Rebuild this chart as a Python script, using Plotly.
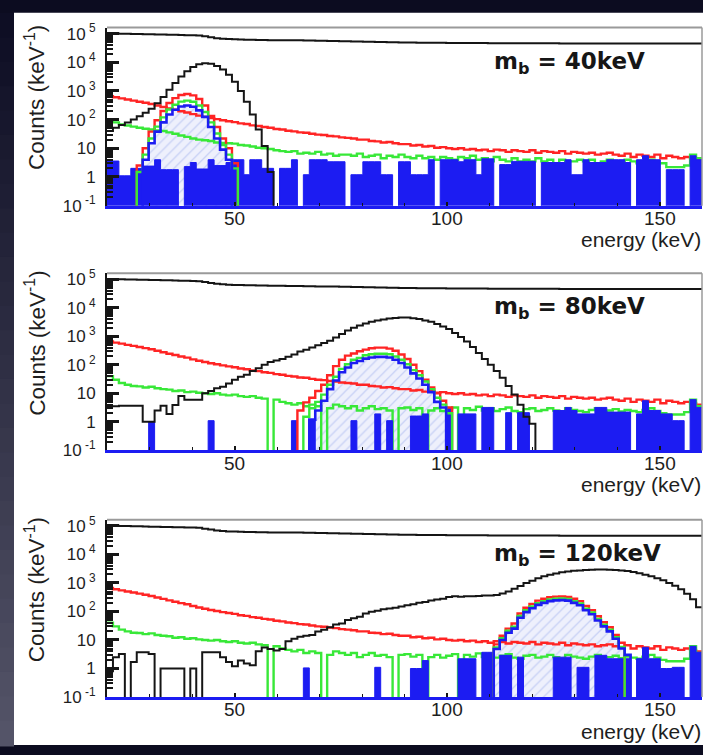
import numpy as np
import plotly.graph_objects as go

# ------------------------------------------------------------------
# Histogram binning: 100 bins of 1.4 keV between 20 and 160 keV
# ------------------------------------------------------------------
E_LO, E_HI, NBINS = 20.0, 160.0, 100
edges = np.linspace(E_LO, E_HI, NBINS + 1)

masses = ["40", "80", "120"]
energy_ticks = [50, 100, 150]

# ---- spectra in counts / keV, one value per bin ----
black_total = [
    1.00e5, 1.00e5, 9.9e4, 9.8e4, 9.7e4, 9.6e4, 9.5e4, 9.4e4, 9.3e4, 9.2e4,
    9.1e4, 9.0e4, 8.9e4, 8.8e4, 8.7e4, 8.5e4, 8.0e4, 7.4e4, 6.9e4, 6.6e4,
    6.4e4, 6.3e4, 6.2e4, 6.1e4, 6.1e4, 6.0e4, 6.0e4, 5.9e4, 5.9e4, 5.9e4,
    5.8e4, 5.8e4, 5.8e4, 5.7e4, 5.7e4, 5.6e4, 5.6e4, 5.5e4, 5.5e4, 5.4e4,
    5.4e4, 5.3e4, 5.3e4, 5.2e4, 5.2e4, 5.1e4, 5.1e4, 5.0e4, 5.0e4, 4.9e4,
    4.9e4, 4.9e4, 4.8e4, 4.8e4, 4.8e4, 4.8e4, 4.8e4, 4.7e4, 4.7e4, 4.7e4,
    4.7e4, 4.7e4, 4.7e4, 4.7e4, 4.6e4, 4.6e4, 4.6e4, 4.6e4, 4.6e4, 4.6e4,
    4.6e4, 4.6e4, 4.6e4, 4.6e4, 4.6e4, 4.6e4, 4.5e4, 4.5e4, 4.5e4, 4.5e4,
    4.5e4, 4.5e4, 4.5e4, 4.5e4, 4.5e4, 4.5e4, 4.5e4, 4.5e4, 4.5e4, 4.5e4,
    4.5e4, 4.5e4, 4.5e4, 4.5e4, 4.5e4, 4.5e4, 4.5e4, 4.5e4, 4.5e4, 4.5e4,
]

red_bkg = [
    660, 600, 550, 500, 460, 420, 385, 350, 310, 275,
    245, 220, 195, 178, 155, 138, 125, 113, 104, 95,
    88, 82, 74, 70, 63, 60, 55, 52, 47, 45,
    41, 39, 36, 35, 32, 30, 29, 27, 26, 24,
    23, 22, 20, 20, 18, 17.5, 16, 16.5, 15, 14,
    14, 12.5, 13, 11.5, 12, 10.5, 11, 10, 9.5, 10,
    9, 9.5, 8.5, 9, 8, 9, 8.5, 7.5, 8.5, 8,
    7.5, 8.5, 7, 8, 7.5, 7, 8, 6.5, 7.5, 7,
    6.5, 7, 6, 6.5, 7, 6, 5.5, 6.5, 5, 6,
    5.5, 5, 6, 4.5, 5.5, 5, 4.5, 5, 4.5, 4,
]

green_bkg_40 = [
    100, 80, 68, 62, 57, 52, 48, 45, 42, 40,
    36, 32, 28, 25, 22, 20, 19, 18, 16, 15.5,
    15, 14.5, 13, 12.5, 11.5, 10.5, 10, 9.5, 8.5, 8,
    7.5, 8, 6.5, 7, 6.5, 7.5, 6, 6.5, 5.5, 6,
    6, 5.5, 6.5, 5, 5.5, 6, 4.5, 5.5, 5, 6,
    5, 4.5, 5.5, 4.5, 5, 4, 5, 4.5, 4, 5,
    4.5, 5.5, 4, 4.5, 3.5, 5, 4, 3.5, 4.5, 3.5,
    4, 3.5, 4.5, 3.5, 4, 3, 4, 3.5, 3.5, 4,
    3.5, 4, 3, 3.5, 4, 3.5, 3, 4, 3.5, 3,
    3.5, 4, 3, 3, 2.2, 2.2, 2.2, 2.5, 6, 4.5,
]

green_bkg_hi = [
    40, 30, 23, 20, 18, 17.5, 16, 17, 15, 14,
    13.5, 12, 12.5, 11, 11.5, 10.5, 10, 9.5, 10, 9,
    8.5, 9, 8, 7.5, 8, 7, 6.5, 0, 6, 5,
    4.5, 4, 4.5, 3.5, 4, 3.5, 0, 3, 4, 3.5,
    3, 3.5, 2.5, 3, 3.5, 2.8, 3, 2.5, 0, 3,
    3.2, 2.6, 3, 0, 2.5, 3, 2.4, 2.8, 3.2, 0,
    3, 2.6, 3.4, 2.5, 3, 2.4, 2.8, 3.2, 2.4, 2.2,
    2.8, 3, 2.4, 2.6, 3, 2.5, 2.2, 3, 2.6, 2.4,
    2.2, 2.6, 3, 2.4, 2.5, 2.8, 2.3, 2.6, 2.4, 2.2,
    2.6, 3, 2.4, 2.0, 1.8, 1.8, 1.8, 2.2, 6, 3.5,
]

black_40 = [
    40, 52, 65, 80, 100, 130, 175, 240, 370, 620,
    1100, 1900, 3200, 4900, 6800, 8500, 9200, 8800, 7400, 5600,
    3700, 2100, 1000, 420, 150, 45, 12, 1.5, 0, 0,
] + [0] * 70

black_80 = [
    3.5, 3.5, 3.7, 3.7, 3.7, 3.7, 1.0, 1.0, 2.5, 3.7,
    1.9, 3.9, 8, 6, 6, 6, 10, 12, 15, 17,
    22, 30, 38, 45, 60, 75, 100, 125, 140, 160,
    190, 230, 290, 340, 400, 480, 580, 700, 900, 1200,
    1600, 2000, 2400, 2800, 3200, 3600, 3900, 4200, 4400, 4500,
    4500, 4300, 4000, 3600, 3200, 2700, 2200, 1800, 1300, 950,
    650, 420, 260, 160, 100, 60, 35, 18, 9, 4,
    1.5, 0.85, 0, 0, 0, 0, 0, 0, 0, 0,
] + [0] * 20

black_120 = [
    0.8, 2.5, 3.2, 0, 1.7, 3.7, 3.7, 3.2, 0, 1.0,
    1.0, 1.0, 1.0, 0, 1.0, 0, 3.7, 3.7, 3.7, 2.5,
    1.7, 1.2, 1.9, 1.5, 1.3, 4, 5.5, 4.8, 4.3, 4.8,
    9, 11, 13, 14, 15, 20, 23, 28, 35, 38,
    50, 58, 65, 85, 98, 105, 120, 128, 135, 150,
    166, 180, 200, 215, 240, 260, 280, 320, 340, 330,
    340, 340, 350, 360, 360, 380, 430, 500, 620, 780,
    1000, 1200, 1450, 1700, 1950, 2150, 2350, 2500, 2650, 2750,
    2850, 2900, 2950, 2950, 2900, 2850, 2750, 2600, 2400, 2200,
    1950, 1700, 1450, 1250, 1000, 800, 600, 420, 270, 140,
]

blue_40 = [
    3.6, 3.6, 1.1, 1.1, 2, 2, 2.4, 2.4, 4, 1.8,
    1.8, 1.8, 0, 2.3, 3.2, 1.9, 1.9, 4, 2.5, 2.5,
    3.2, 4, 4, 1.2, 4, 4, 2, 2, 0, 2,
    2, 4, 0, 1.2, 4, 4, 4, 3.4, 3.4, 3.4,
    0, 1.2, 1.2, 3.4, 3.4, 3.4, 1.2, 1.2, 0, 3.4,
    3.4, 1.2, 1.2, 1.2, 4, 0, 4, 4, 4, 3.4,
    4, 4, 1.2, 4.3, 4.3, 0, 2.7, 2.7, 3.5, 3.5,
    3.5, 3.5, 0, 3.2, 3.2, 3.2, 3.2, 4, 1.2, 1.2,
    4, 3.2, 3.2, 3.2, 4, 4, 4, 3.2, 0, 4,
    5.5, 4, 4, 0, 1.8, 1.8, 1.8, 0, 5.5, 4,
]

blue_80 = [
    0, 0, 0, 0, 0, 0, 0, 1.0, 0, 0,
    0, 0, 0, 0, 0, 0, 0, 1.1, 0, 0,
    0, 0, 0, 0, 0, 0, 0, 0, 0, 0,
    0, 1.1, 0, 0, 1.1, 0, 0, 0, 0, 0,
    0, 1.1, 0, 0, 0, 1.9, 0, 1.1, 0, 0,
    0, 1.6, 1.6, 1.9, 0, 0, 0, 3.2, 0, 1.9,
    1.9, 1.9, 0, 3.2, 3.2, 0, 0, 2.1, 0, 2.1,
    2.1, 0, 0, 0, 0, 2.5, 2.5, 3.2, 2.5, 1.9,
    1.9, 1.9, 3.2, 3.2, 2.2, 2.2, 2.2, 2.2, 0, 1.9,
    5.5, 2.5, 2.5, 1.9, 1.9, 1.1, 1.1, 0, 6, 3.2,
]

blue_120 = [
    0, 0, 0, 0, 0, 0, 0, 0, 0, 0,
    0, 0, 0, 0, 0, 0, 0, 0, 0, 0,
    0, 0, 0, 0, 0, 0, 0, 0, 0, 0,
    0, 0, 0, 1.05, 0, 0, 0, 0, 0, 0,
    0, 0, 0, 0, 0, 1.1, 0, 0, 0, 0,
    0, 1.0, 1.0, 1.9, 0, 0, 0, 0, 0, 2.2,
    2.2, 2.2, 0, 3.7, 3.7, 0, 2.9, 2.9, 0, 2.5,
    0, 0, 0, 0, 0, 2.5, 2.5, 2.5, 0, 1.1,
    1.1, 0, 2.9, 2.9, 2.2, 2.2, 2.2, 2.2, 0, 2.2,
    5.5, 2.2, 2.2, 1.0, 1.0, 1.1, 1.1, 0, 6, 3.7,
]

# ---- signal peaks: index of the first bin, then one value per bin ----
peak_first_bin_40 = 5
red_peak_40 = [2.5, 10, 38, 95, 200, 380, 560, 720, 780, 700, 520, 310, 135, 55, 22, 10, 3]
green_peak_40 = [1.5, 6, 22, 57, 120, 225, 330, 425, 460, 420, 310, 185, 80, 33, 13, 6, 2]
blue_peak_40 = [0, 4, 15, 38, 80, 150, 220, 285, 310, 280, 210, 125, 55, 22, 9, 4, 0]

peak_first_bin_80 = 32
red_peak_80 = [2.5, 4.8, 7, 12, 20, 43, 90, 150, 210, 250, 300, 340, 380, 400, 400, 370,
               310, 230, 160, 100, 60, 30, 16, 10, 5.5, 3.2]
green_peak_80 = [0, 1.5, 3, 5, 9, 20, 38, 72, 105, 150, 175, 215, 235, 245, 245, 235,
                 195, 150, 105, 65, 43, 26, 14, 7, 4, 2]
blue_peak_80 = [0, 0, 1.2, 2.5, 5.5, 14, 28, 55, 80, 115, 135, 165, 180, 190, 190, 180,
                150, 115, 80, 50, 33, 20, 11, 5, 3.2, 0]

peak_first_bin_120 = 64
red_peak_120 = [0, 7, 14, 25, 38, 85, 135, 185, 240, 280, 315, 330, 335, 320, 280, 230,
                155, 110, 68, 42, 28, 15, 8, 0, 0]
green_peak_120 = [0, 5.5, 11.5, 21, 29, 69, 110, 150, 195, 230, 265, 280, 288, 275, 230, 190,
                  126, 92, 55, 34, 23, 12.6, 5.7, 0, 0]
blue_peak_120 = [0, 4.8, 10, 18, 25, 60, 95, 130, 170, 200, 230, 245, 250, 240, 200, 165,
                 110, 80, 48, 30, 20, 11, 5, 3, 0]

# ------------------------------------------------------------------
# Page geometry (pixels) and styling
# ------------------------------------------------------------------
W, H = 703, 755
PLOT_L, PLOT_R = 107, 702
PANELS_PX = [(22, 204), (273, 454), (525, 706)]   # (top, bottom) of each frame
Y_RANGE = [-1, 5.21]

BLACK = "#151515"
RED = "#ff2424"
GREEN = "#38e838"
BLUE = "#1c1cf2"
TEXT = "#1e1e1e"
FONT = "Liberation Sans, Arial, sans-serif"

FLOOR = 0.07  # empty bins are drawn just below the visible range


def fx(px):
    return px / W


def fy(py):
    return 1 - py / H


def embed(first_bin, values):
    full = np.zeros(NBINS)
    full[first_bin:first_bin + len(values)] = values
    return full


def steps(values):
    v = np.asarray(values, dtype=float)
    v = np.where(v > 0, v, FLOOR)
    x = np.repeat(edges, 2)[1:-1]
    y = np.repeat(v, 2)
    return x, y


panel_data = [
    dict(m=masses[0], black=black_40, green=green_bkg_40, blue=blue_40,
         first=peak_first_bin_40, rp=red_peak_40, gp=green_peak_40, bp=blue_peak_40),
    dict(m=masses[1], black=black_80, green=green_bkg_hi, blue=blue_80,
         first=peak_first_bin_80, rp=red_peak_80, gp=green_peak_80, bp=blue_peak_80),
    dict(m=masses[2], black=black_120, green=green_bkg_hi, blue=blue_120,
         first=peak_first_bin_120, rp=red_peak_120, gp=green_peak_120, bp=blue_peak_120),
]

fig = go.Figure()


def line_trace(vals, color, width, xa, ya):
    x, y = steps(vals)
    return go.Scatter(x=x, y=y, mode="lines", xaxis=xa, yaxis=ya,
                      line=dict(color=color, width=width, simplify=False),
                      hoverinfo="skip", showlegend=False)


def fill_trace(vals, line_color, line_width, fillcolor, xa, ya, pattern=None):
    x, y = steps(vals)
    # close the outline along the floor so the polygon is a proper histogram area
    x = np.concatenate([[edges[0]], x, [edges[-1]]])
    y = np.concatenate([[FLOOR], y, [FLOOR]])
    kw = dict(fillpattern=pattern) if pattern else {}
    return go.Scatter(x=x, y=y, mode="lines", fill="toself", xaxis=xa, yaxis=ya,
                      line=dict(width=line_width, color=line_color, simplify=False),
                      fillcolor=fillcolor, hoverinfo="skip", showlegend=False, **kw)


minor_vals = [m * 10.0 ** d for d in range(-1, 6) for m in range(2, 10)]
layout_axes = {}
annotations = []
shapes = []

for i, (pd_, (top, bottom)) in enumerate(zip(panel_data, PANELS_PX)):
    n = "" if i == 0 else str(i + 1)
    xa, ya = "x" + n, "y" + n

    blue_sig = embed(pd_["first"], pd_["bp"])
    # hatched signal region
    fig.add_trace(fill_trace(
        blue_sig, BLUE, 0, "#eef0fc", xa, ya,
        pattern=dict(shape="/", fgcolor="#9fb0ec", bgcolor="#eef0fc", size=7, solidity=0.18)))

    fig.add_trace(line_trace(black_total, BLACK, 2, xa, ya))
    fig.add_trace(line_trace(red_bkg, RED, 2.4, xa, ya))
    fig.add_trace(line_trace(pd_["green"], GREEN, 2.4, xa, ya))

    # solid blue spectrum
    fig.add_trace(fill_trace(pd_["blue"], BLUE, 1, BLUE, xa, ya))

    fig.add_trace(line_trace(pd_["black"], BLACK, 2, xa, ya))
    fig.add_trace(line_trace(embed(pd_["first"], pd_["rp"]), RED, 2.4, xa, ya))
    fig.add_trace(line_trace(embed(pd_["first"], pd_["gp"]), GREEN, 2.4, xa, ya))
    fig.add_trace(line_trace(blue_sig, BLUE, 2.6, xa, ya))

    layout_axes["xaxis" + n] = dict(
        domain=[fx(PLOT_L), fx(PLOT_R)], range=[E_LO, E_HI], anchor=ya,
        showgrid=False, zeroline=False, showline=True, linecolor=BLUE, linewidth=3,
        ticks="inside", ticklen=4, tickwidth=1.5, tickcolor=BLACK,
        tickmode="array", tickvals=energy_ticks, showticklabels=False,
        minor=dict(ticks="inside", ticklen=3, tickwidth=1, tickcolor=BLACK,
                   tickmode="linear", tick0=0, dtick=10))
    layout_axes["yaxis" + n] = dict(
        domain=[fy(bottom), fy(top)], type="log", range=Y_RANGE, anchor=xa,
        showgrid=False, zeroline=False, showline=True, linecolor=BLACK, linewidth=2,
        ticks="inside", ticklen=12, tickwidth=2.5, tickcolor=BLACK,
        tickmode="array", tickvals=[0.1, 1, 10, 100, 1e3, 1e4, 1e5],
        ticktext=["10<sup> -1</sup>", "1", "10", "10<sup> 2</sup>", "10<sup> 3</sup>",
                  "10<sup> 4</sup>", "10<sup> 5</sup>"],
        ticklabelstandoff=6,
        minor=dict(ticks="inside", ticklen=6, tickwidth=1.5, tickcolor=BLACK,
                   tickmode="array", tickvals=minor_vals),
        tickfont=dict(family=FONT, size=17, color=TEXT))

    # energy tick labels, set just under the axis
    for e in energy_ticks:
        annotations.append(dict(
            text=str(e), xref=xa, yref="paper", x=e, y=fy(bottom + 13),
            xanchor="center", yanchor="middle", showarrow=False,
            font=dict(family=FONT, size=19, color=TEXT)))

    # grey frame on top and right
    shapes.append(dict(type="line", xref="paper", yref="paper",
                       x0=fx(PLOT_L), x1=fx(PLOT_R), y0=fy(top), y1=fy(top),
                       line=dict(color="#9a9a9a", width=2), layer="above"))
    shapes.append(dict(type="line", xref="paper", yref="paper",
                       x0=fx(PLOT_R), x1=fx(PLOT_R), y0=fy(top), y1=fy(bottom),
                       line=dict(color="#9a9a9a", width=1.5), layer="above"))

    annotations.append(dict(
        text="<b>m<sub>b</sub> = %skeV</b>" % pd_["m"], xref="paper", yref="paper",
        x=fx(492), y=fy(top + 36), xanchor="left", yanchor="middle", showarrow=False,
        font=dict(family="DejaVu Sans", size=23, color="#161616")))
    annotations.append(dict(
        text="energy (keV)", xref="paper", yref="paper",
        x=fx(703), y=fy(bottom + 35), xanchor="right", yanchor="middle", showarrow=False,
        font=dict(family=FONT, size=21, color=TEXT)))
    annotations.append(dict(
        text="Counts (keV<sup>-1</sup>)", xref="paper", yref="paper", textangle=-90,
        x=fx(35), y=fy(top + 72), xanchor="center", yanchor="middle", showarrow=False,
        font=dict(family=FONT, size=22.5, color=TEXT)))

# slide background: dark strip on top and a shaded strip on the left
BG_TOP = np.array([14, 14, 36])
BG_BOT = np.array([84, 84, 104])
shapes.insert(0, dict(type="rect", xref="paper", yref="paper", x0=0, x1=1, y0=0, y1=1,
                      fillcolor="#0c0c20", line=dict(width=0), layer="below"))
n_strip = 30
for k in range(n_strip):
    t = k / (n_strip - 1)
    c = (BG_TOP * (1 - t) + BG_BOT * t).astype(int)
    shapes.insert(1 + k, dict(type="rect", xref="paper", yref="paper",
                              x0=0, x1=fx(14), y0=fy(7 + (H - 7) * (k + 1) / n_strip) - 0.002,
                              y1=fy(7 + (H - 7) * k / n_strip),
                              fillcolor="rgb(%d,%d,%d)" % tuple(c), line=dict(width=0),
                              layer="below"))
shapes.insert(1 + n_strip, dict(type="rect", xref="paper", yref="paper",
                                x0=fx(14), x1=1, y0=0, y1=fy(7),
                                fillcolor="white", line=dict(width=0), layer="below"))

fig.update_layout(
    width=W, height=H, autosize=False,
    margin=dict(l=0, r=0, t=0, b=0),
    paper_bgcolor="#0c0c20", plot_bgcolor="rgba(0,0,0,0)",
    showlegend=False, shapes=shapes, annotations=annotations,
    **layout_axes)

fig.write_html("out.html")
